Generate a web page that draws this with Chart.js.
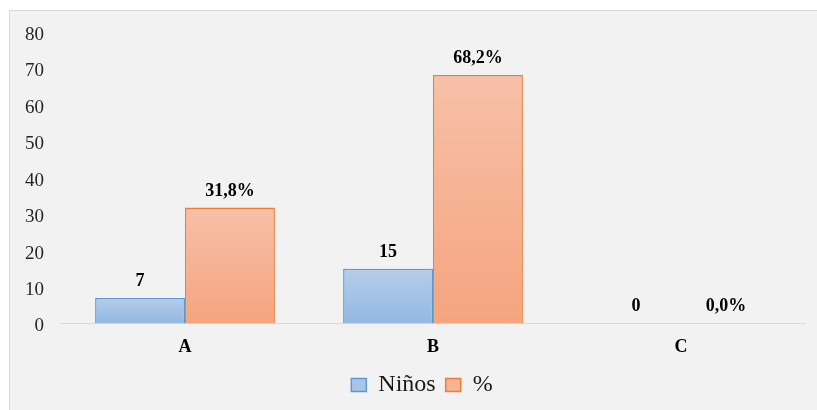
<!DOCTYPE html>
<html>
<head>
<meta charset="utf-8">
<script src="https://cdn.jsdelivr.net/npm/chart.js@4.4.1/dist/chart.umd.min.js"></script>
<style>
  html, body { margin: 0; padding: 0; background: #fff; }
  #panel {
    position: absolute; left: 9px; top: 10px; width: 808px; height: 400px;
    background: #f2f2f2; border-left: 1px solid #d9d9d9; border-top: 1px solid #d9d9d9;
    box-sizing: border-box;
  }
  #wrap { position: absolute; left: 10px; top: 11px; width: 807px; height: 399px; }
</style>
</head>
<body>
<div id="panel"></div>
<div id="wrap"><canvas id="chart"></canvas></div>
<script>
const categories = ["A", "B", "C"];
const ninos = [7, 15, 0];
const percent = [31.8, 68.2, 0];
const ninosLabels = ["7", "15", "0"];
const percentLabels = ["31,8%", "68,2%", "0,0%"];
const yTicks = [0, 10, 20, 30, 40, 50, 60, 70, 80];

const FONT = "'Liberation Serif', 'Times New Roman', 'DejaVu Serif', serif";

// vertical gradient per bar, lighter on top like the office style
function barGradient(top, bottom) {
  return (ctx) => {
    const chart = ctx.chart;
    const y = chart.scales && chart.scales.y;
    if (!chart.chartArea || !y || ctx.raw == null) return bottom;
    const y0 = y.getPixelForValue(0);
    const y1 = y.getPixelForValue(ctx.raw);
    if (Math.abs(y0 - y1) < 1) return bottom;
    const g = chart.ctx.createLinearGradient(0, y1, 0, y0);
    g.addColorStop(0, top);
    g.addColorStop(1, bottom);
    return g;
  };
}

const valueLabels = {
  id: "valueLabels",
  afterLayout(chart) {
    // legend sits a bit right of the canvas centre in the original
    if (chart.legend) chart.legend.left += 29;
  },
  afterDatasetsDraw(chart) {
    const c = chart.ctx;
    const texts = [ninosLabels, percentLabels];
    c.save();
    c.font = "bold 18px " + FONT;
    c.fillStyle = "#000";
    c.textAlign = "center";
    c.textBaseline = "alphabetic";
    chart.data.datasets.forEach((ds, i) => {
      chart.getDatasetMeta(i).data.forEach((bar, j) => {
        c.fillText(texts[i][j], bar.x, bar.y - 12);
      });
    });
    c.restore();
  },
};

new Chart("chart", {
  type: "bar",
  data: {
    labels: categories,
    datasets: [
      {
        label: "Niños",
        data: ninos,
        backgroundColor: barGradient("#b5cdea", "#93b8e2"),
        borderColor: "#5b9bd5",
        borderWidth: 1.5,
        legendFill: "#a9c6e8",
      },
      {
        label: "%",
        data: percent,
        backgroundColor: barGradient("#f7c0a8", "#f5a47f"),
        borderColor: "#ed7d31",
        borderWidth: 1.5,
        legendFill: "#f6b496",
      },
    ],
  },
  plugins: [valueLabels],
  options: {
    responsive: true,
    maintainAspectRatio: false,
    animation: false,
    layout: { padding: { top: 21, right: 12, bottom: 3, left: 0 } },
    datasets: { bar: { categoryPercentage: 0.725, barPercentage: 1 } },
    plugins: {
      tooltip: { enabled: false },
      legend: {
        position: "bottom",
        labels: {
          font: { family: FONT, size: 24 },
          color: "#1a1a1a",
          boxWidth: 15,
          boxHeight: 13,
          padding: 10,
          generateLabels: (chart) =>
            chart.data.datasets.map((ds, i) => ({
              text: ds.label,
              fillStyle: ds.legendFill,
              strokeStyle: ds.borderColor,
              lineWidth: 1.5,
              fontColor: "#1a1a1a",
              datasetIndex: i,
            })),
        },
      },
    },
    scales: {
      x: {
        afterFit: (scale) => { scale.height -= 8; },
        grid: { display: false, drawTicks: false },
        border: { display: true, color: "#d9d9d9", width: 1 },
        ticks: {
          padding: 13,
          color: "#000",
          font: { family: FONT, size: 18, weight: "bold" },
        },
      },
      y: {
        min: 0,
        max: 80,
        afterFit: (scale) => {
          scale.width = 51;
          scale.paddingTop = 0;
        },
        afterBuildTicks: (scale) => { scale.ticks = yTicks.map((v) => ({ value: v })); },
        grid: { display: false, drawTicks: false },
        border: { display: false },
        ticks: {
          padding: 17,
          labelOffset: 3,
          color: "#262626",
          font: { family: FONT, size: 19 },
        },
      },
    },
  },
});
</script>
</body>
</html>
